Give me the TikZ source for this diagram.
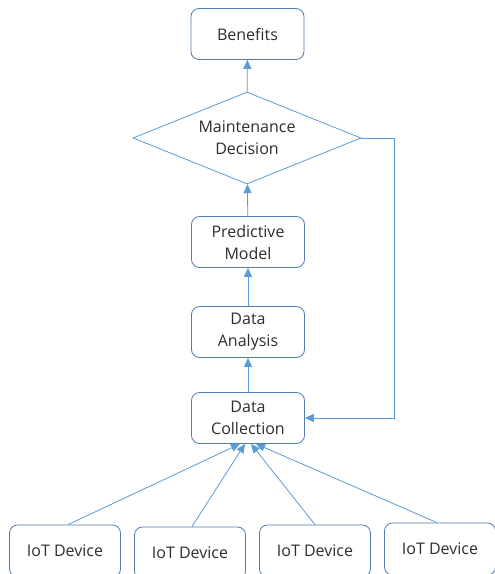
\documentclass[tikz,border=0pt]{standalone}
\usepackage{fontspec}
\setmainfont{Open Sans}
\usetikzlibrary{shapes.geometric,arrows.meta}
\definecolor{boxline}{RGB}{80,125,175}
\definecolor{arrowline}{RGB}{91,155,213}
\definecolor{txt}{RGB}{45,45,45}
\begin{document}
\begin{tikzpicture}[
x=1pt,y=-1pt,
every node/.style={text=txt,font=\fontsize{16}{22}\selectfont,align=center},
box/.style={draw=boxline,thick,rounded corners=8pt,minimum width=113pt,minimum height=51pt,inner sep=0pt},
dev/.style={box,minimum width=111pt,minimum height=52pt},
decision/.style={diamond,draw=arrowline,thick,minimum width=228pt,minimum height=92pt,inner sep=0pt,aspect=2.48},
link/.style={draw=arrowline,thick,-{Triangle[length=9pt,width=8pt]}}
]
\clip (0,0) rectangle (495,574);
\node[box] (ben) at (247.5,34) {Benefits};
\node[decision] (dec) at (247,138) {Maintenance\\Decision};
\node[box] (pm) at (248,242) {Predictive\\Model};
\node[box] (da) at (248,332) {Data\\Analysis};
\node[box] (dc) at (248,418) {Data\\Collection};

\node[dev] (d1) at (65,551) {IoT Device};
\node[dev] (d2) at (190,553) {IoT Device};
\node[dev] (d3) at (315,551) {IoT Device};
\node[dev] (d4) at (440,549) {IoT Device};

\draw[link] (dec)--(ben);
\draw[link] (pm)--(dec);
\draw[link] (da)--(pm);
\draw[link] (dc)--(da);
\draw[link] (dec.east)-|(394,418)--(dc.east);

\draw[link] ([xshift=3pt]d1.north)--([xshift=-8pt]dc.south);
\draw[link] ([xshift=2pt]d2.north)--([xshift=-3pt]dc.south);
\draw[link] (d3.north)--([xshift=3pt]dc.south);
\draw[link] ([xshift=-3pt]d4.north)--([xshift=8pt]dc.south);
\end{tikzpicture}
\end{document}
